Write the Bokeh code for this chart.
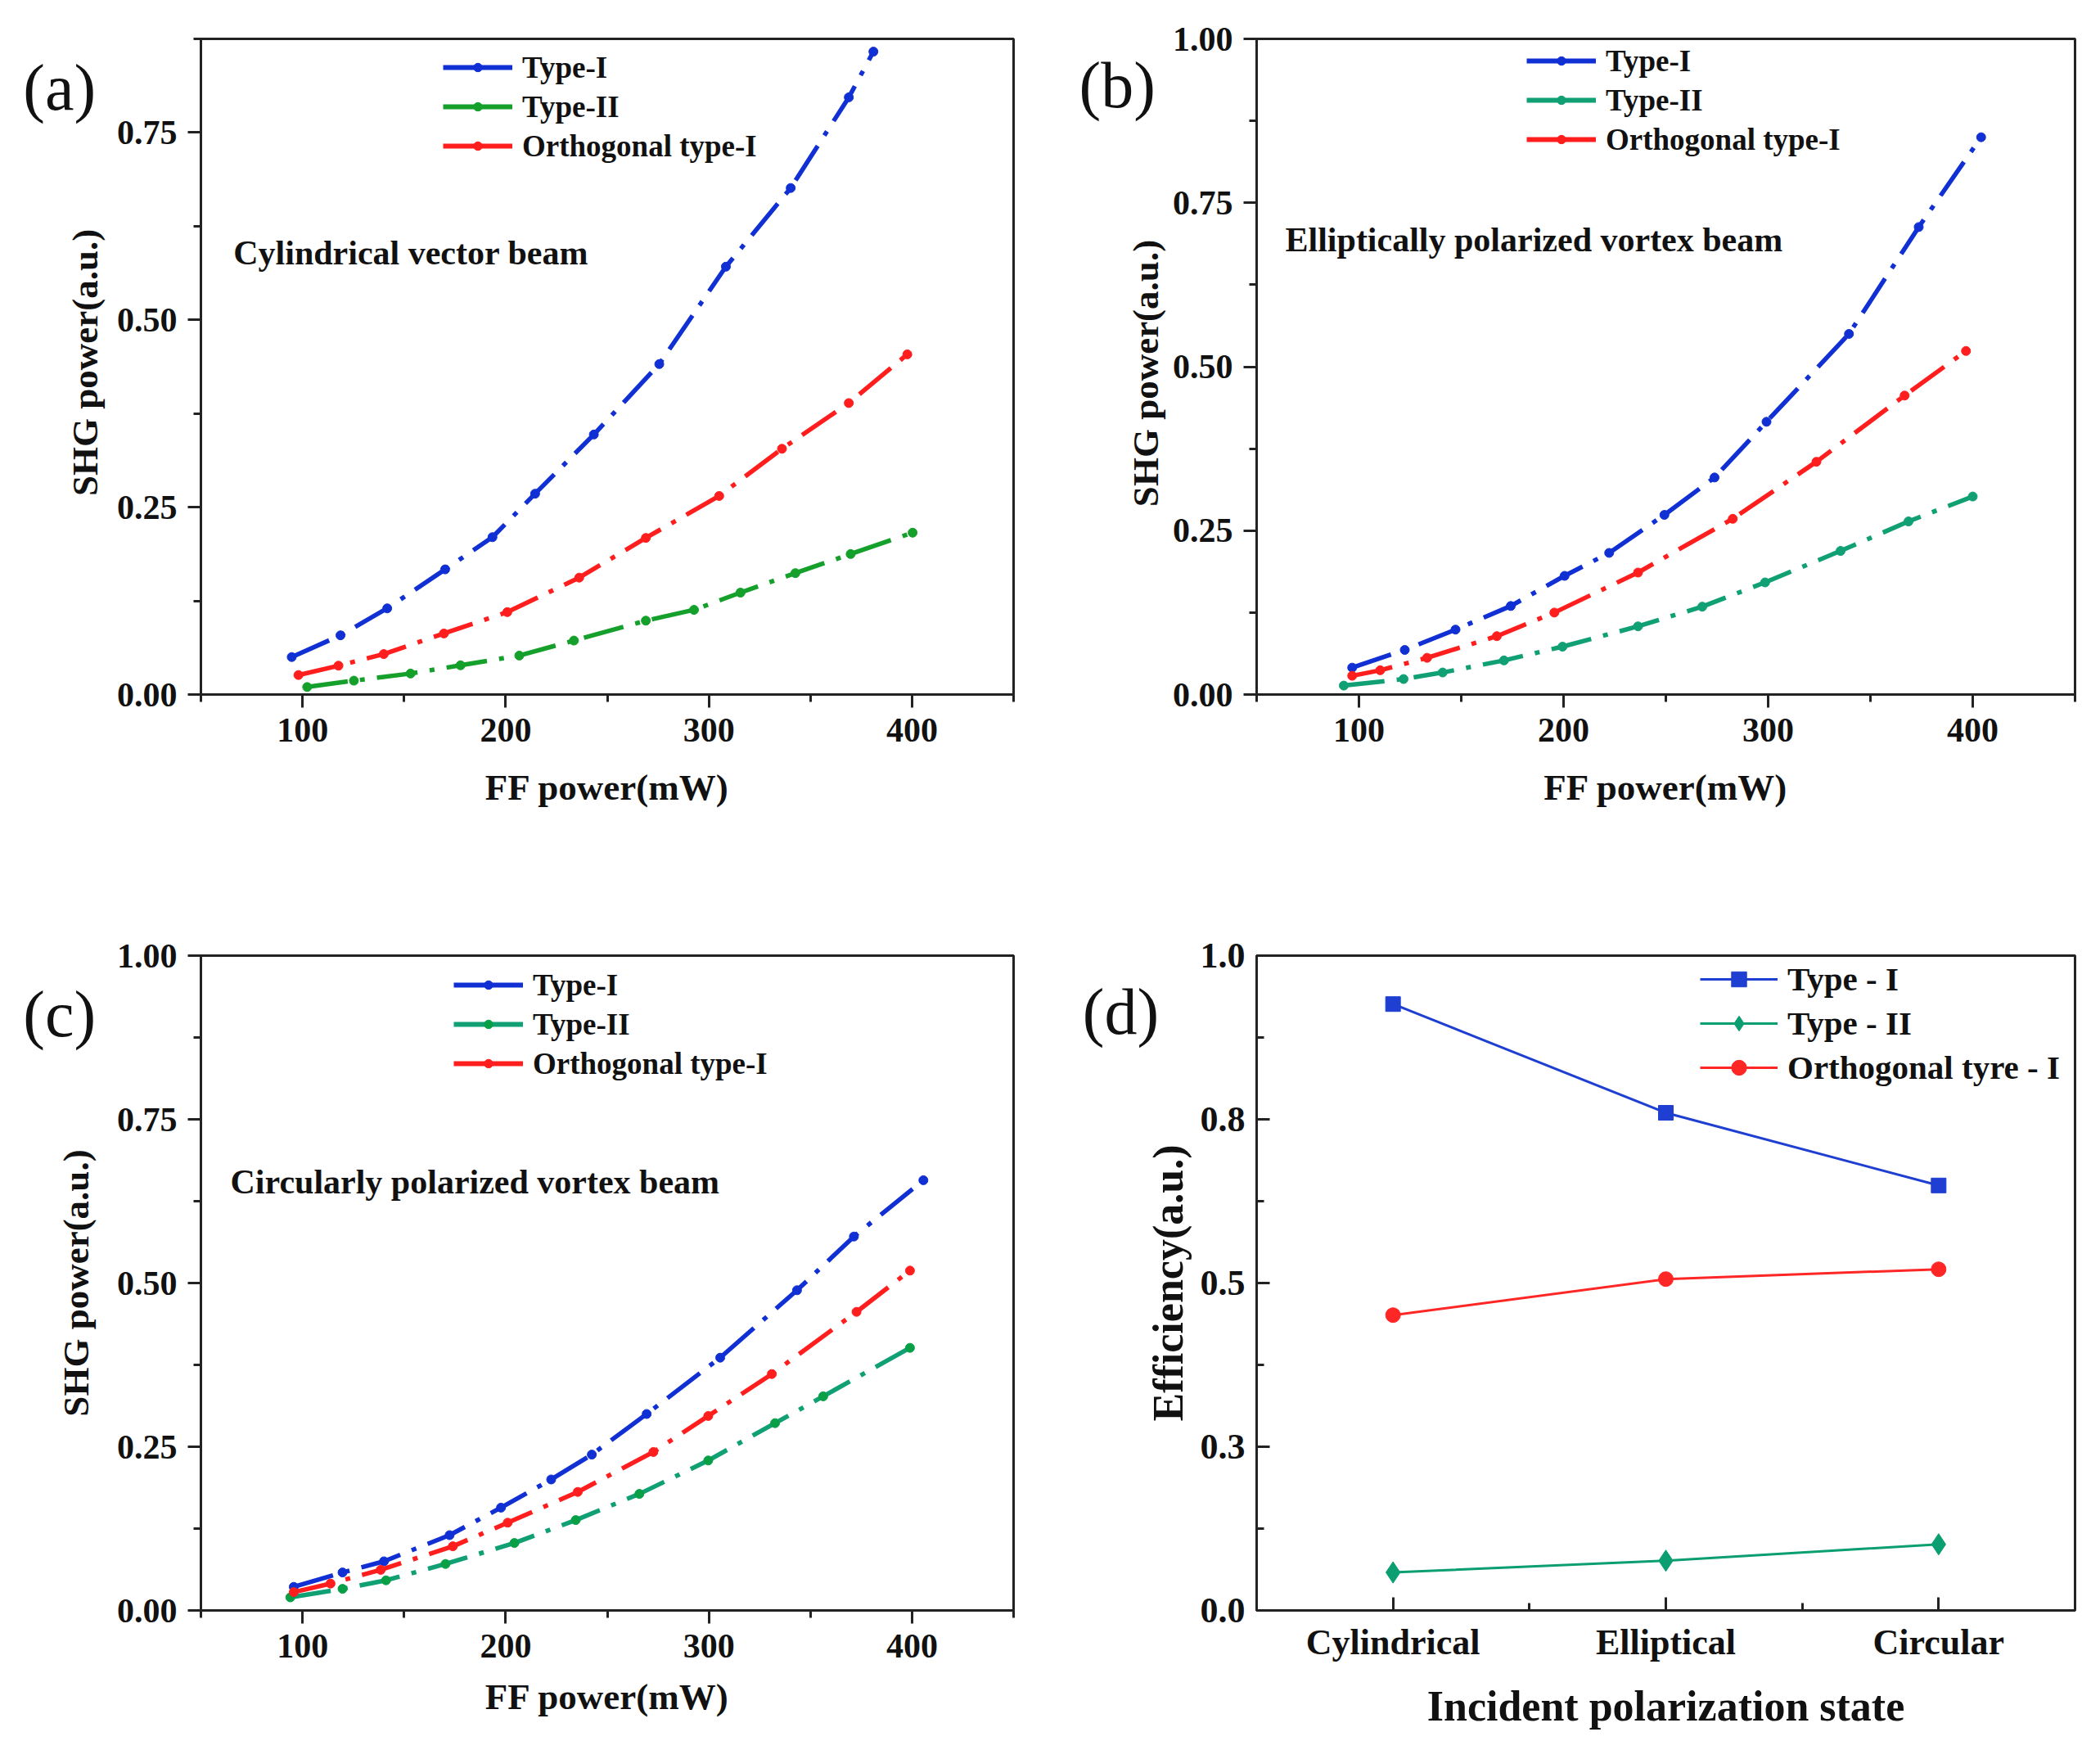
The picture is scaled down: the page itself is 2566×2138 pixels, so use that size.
import math
from bokeh.plotting import figure
from bokeh.layouts import gridplot
from bokeh.models import FixedTicker, PrintfTickFormatter, Label, Legend, LegendItem, Range1d
from bokeh.embed import file_html
from bokeh.resources import INLINE

# (a) cylindrical vector beam
a_type1_x = [94.7, 118.7, 141.7, 170.2, 193.5, 214.5, 243.4, 275.6, 308.4, 340.3, 368.9, 381.0]
a_type1_y = [0.050, 0.079, 0.115, 0.167, 0.210, 0.268, 0.347, 0.441, 0.571, 0.676, 0.797, 0.858]
a_type2_x = [102.3, 125.3, 153.2, 177.8, 206.7, 233.6, 269.0, 292.7, 315.6, 342.6, 369.8, 400.3]
a_type2_y = [0.010, 0.0185, 0.028, 0.039, 0.052, 0.072, 0.0986, 0.113, 0.136, 0.162, 0.1875, 0.216]
a_orth_x = [98.0, 117.7, 140.0, 169.6, 200.8, 236.2, 269.0, 305.1, 336.0, 368.9, 397.7]
a_orth_y = [0.026, 0.0385, 0.054, 0.0815, 0.110, 0.156, 0.209, 0.265, 0.328, 0.389, 0.454]

# (b) elliptically polarized vortex beam
b_type1_x = [96.7, 122.4, 147.2, 174.2, 200.5, 222.3, 249.3, 273.8, 299.2, 339.5, 373.6, 404.1]
b_type1_y = [0.041, 0.068, 0.099, 0.135, 0.181, 0.216, 0.274, 0.331, 0.416, 0.550, 0.713, 0.850]
b_type2_x = [92.6, 121.8, 140.9, 170.9, 199.5, 236.4, 267.8, 298.5, 335.4, 368.6, 400.0]
b_type2_y = [0.0136, 0.0236, 0.0336, 0.052, 0.073, 0.104, 0.134, 0.171, 0.219, 0.264, 0.302]
b_orth_x = [96.7, 110.4, 133.3, 167.4, 195.5, 236.4, 282.7, 323.6, 366.7, 396.7]
b_orth_y = [0.0286, 0.037, 0.056, 0.089, 0.125, 0.186, 0.268, 0.355, 0.456, 0.524]

# (c) circularly polarized vortex beam
c_type1_x = [95.7, 119.7, 140.1, 172.4, 197.7, 222.4, 242.4, 269.4, 305.6, 343.4, 371.4, 405.6]
c_type1_y = [0.036, 0.058, 0.075, 0.115, 0.157, 0.200, 0.238, 0.300, 0.386, 0.489, 0.571, 0.657]
c_type2_x = [94.0, 119.7, 141.1, 170.4, 204.3, 234.5, 265.8, 299.7, 332.6, 356.3, 399.0]
c_type2_y = [0.020, 0.033, 0.046, 0.071, 0.103, 0.138, 0.178, 0.229, 0.286, 0.327, 0.401]
c_orth_x = [95.7, 113.8, 138.5, 174.0, 201.0, 235.5, 272.7, 299.7, 331.0, 372.7, 399.0]
c_orth_y = [0.028, 0.041, 0.062, 0.098, 0.134, 0.181, 0.242, 0.297, 0.361, 0.456, 0.519]

# (d) efficiency vs polarization state
d_states = ["Cylindrical", "Elliptical", "Circular"]
d_type1 = [0.926, 0.760, 0.649]
d_type2 = [0.058, 0.076, 0.101]
d_orth = [0.451, 0.506, 0.521]

FONT = "Liberation Serif"
BLUE = "#1030D4"
RED = "#FF1E1E"
GREEN_A = "#14A02A"
TEAL = "#10A074"
DASH = "50 15 6 15"
INK = "#111111"


def base_fig(left, right, top, bottom, tick_font, label_font):
    p = figure(width=1275, height=1061, output_backend="svg", toolbar_location=None,
               min_border_left=left, min_border_right=right,
               min_border_top=top, min_border_bottom=bottom,
               background_fill_color="white", border_fill_color="white")
    p.grid.visible = False
    p.outline_line_color = "#222222"
    p.outline_line_width = 3
    for ax in (p.xaxis[0], p.yaxis[0]):
        ax.axis_line_width = 3
        ax.axis_line_color = "#222222"
        ax.major_tick_line_width = 3
        ax.minor_tick_line_width = 3
        ax.major_tick_line_color = "#222222"
        ax.minor_tick_line_color = "#222222"
        ax.major_label_text_font = FONT
        ax.major_label_text_font_style = "bold"
        ax.major_label_text_font_size = tick_font
        ax.major_label_text_color = INK
        ax.axis_label_text_font = FONT
        ax.axis_label_text_font_style = "bold"
        ax.axis_label_text_font_size = label_font
        ax.axis_label_text_color = INK
    return p


def panel_letter(p, text, x, y, side):
    # side panels are not clipped to the frame, so the letter can sit in the margin
    p.add_layout(Label(x=x, y=y, text=text, text_font=FONT, text_font_size="80px",
                       text_baseline="middle", text_color=INK), side)


def shg_panel(letter, note, note_x, note_y, lab_x, lab_y, series, y_end, borders, legend_xy,
              side, ylab_xy=None):
    left, right, top, bottom = borders
    p = base_fig(left, right, top, bottom, "42px", "45px")
    p.x_range = Range1d(50, 450)
    p.y_range = Range1d(0, y_end)
    p.xaxis.ticker = FixedTicker(ticks=[100, 200, 300, 400], minor_ticks=[50, 150, 250, 350, 450])
    yt = [0, 0.25, 0.5, 0.75, 1.0]
    p.yaxis.ticker = FixedTicker(ticks=[t for t in yt if t <= y_end + 1e-9],
                                 minor_ticks=[0.125, 0.375, 0.625, 0.875])
    p.yaxis.formatter = PrintfTickFormatter(format="%.2f")
    for ax in (p.xaxis[0], p.yaxis[0]):
        ax.major_tick_in = 0
        ax.major_tick_out = 16
        ax.minor_tick_in = 0
        ax.minor_tick_out = 9
        ax.major_label_standoff = 13
    p.xaxis.axis_label = "FF power(mW)"
    p.xaxis.axis_label_standoff = 28
    if ylab_xy is None:
        p.yaxis.axis_label = "SHG power(a.u.)"
        p.yaxis.axis_label_standoff = 22
    else:
        # y title as a rotated label in the left panel, sharing room with the letter
        p.add_layout(Label(x=ylab_xy[0], y=ylab_xy[1], text="SHG power(a.u.)", angle=math.pi / 2,
                           text_font=FONT, text_font_style="bold", text_font_size="45px",
                           text_align="center", text_baseline="middle", text_color=INK), "left")

    items = []
    for name, xs, ys, color, mcolor in series:
        p.line(xs, ys, line_color=color, line_width=5.5, line_dash=DASH)
        pts = p.scatter(xs, ys, size=11, marker="circle", fill_color=mcolor, line_color=mcolor)
        # one-point solid line: draws nothing in the plot, gives a solid legend swatch
        key = p.line(xs[:1], ys[:1], line_color=color, line_width=6)
        items.append(LegendItem(label=name, renderers=[key, pts]))
    leg = Legend(items=items, location=legend_xy, padding=0, margin=0, spacing=4,
                 label_height=44, glyph_height=26, glyph_width=85, label_standoff=12,
                 label_text_font=FONT, label_text_font_style="bold",
                 label_text_font_size="37px", label_text_color=INK,
                 border_line_color=None, background_fill_alpha=0)
    p.add_layout(leg)

    p.add_layout(Label(x=note_x, y=note_y, text=note, text_font=FONT, text_font_style="bold",
                       text_font_size="42px", text_baseline="middle", text_color=INK))
    panel_letter(p, letter, lab_x, lab_y, side)
    return p


pa = shg_panel("(a)", "Cylindrical vector beam", 66, 0.589, -37.5, 0.81,
               [("Type-I", a_type1_x, a_type1_y, BLUE, BLUE),
                ("Type-II", a_type2_x, a_type2_y, GREEN_A, GREEN_A),
                ("Orthogonal type-I", a_orth_x, a_orth_y, RED, RED)],
               0.875, (237, 37, 47, 213), (296, 648), "left", (-7.0, 0.443))

pb = shg_panel("(b)", "Elliptically polarized vortex beam", 64, 0.693, -36.8, 0.929,
               [("Type-I", b_type1_x, b_type1_y, BLUE, BLUE),
                ("Type-II", b_type2_x, b_type2_y, TEAL, TEAL),
                ("Orthogonal type-I", b_orth_x, b_orth_y, RED, RED)],
               1.0, (260, 13, 47, 213), (330, 656), "left", (-4.3, 0.49))

pc = shg_panel("(c)", "Circularly polarized vortex beam", 64.5, 0.655, -37.5, 0.911,
               [("Type-I", c_type1_x, c_type1_y, BLUE, BLUE),
                ("Type-II", c_type2_x, c_type2_y, TEAL, "#08A046"),
                ("Orthogonal type-I", c_orth_x, c_orth_y, RED, RED)],
               1.0, (237, 37, 106, 155), (309, 646), "above")
pc.xaxis.axis_label_standoff = 20

# (d)
pd_ = base_fig(257, 15, 106, 155, "44px", "52px")
pd_.x_range = Range1d(0.5, 3.5)
pd_.y_range = Range1d(0, 1.0)
d_pos = [i + 1 for i in range(len(d_states))]
pd_.xaxis.ticker = FixedTicker(ticks=d_pos, minor_ticks=[1.5, 2.5])
pd_.xaxis.major_label_overrides = {i + 1: s for i, s in enumerate(d_states)}
pd_.yaxis.ticker = FixedTicker(ticks=[0, 0.25, 0.5, 0.75, 1.0],
                               minor_ticks=[0.125, 0.375, 0.625, 0.875])
pd_.yaxis.major_label_overrides = {0: "0.0", 0.25: "0.3", 0.5: "0.5", 0.75: "0.8", 1: "1.0"}
for ax in (pd_.xaxis[0], pd_.yaxis[0]):
    ax.major_tick_in = 16
    ax.major_tick_out = 0
    ax.minor_tick_in = 9
    ax.minor_tick_out = 0
    ax.major_label_standoff = 14
pd_.xaxis.axis_label = "Incident polarization state"
pd_.yaxis.axis_label = "Efficiency(a.u.)"
pd_.xaxis.axis_label_standoff = 22
pd_.yaxis.axis_label_standoff = 8

d_items = []
for name, ys, color, marker, size in [("Type - I", d_type1, "#1F3FD2", "square", 18),
                                      ("Type - II", d_type2, "#0A9E70", "diamond", 26),
                                      ("Orthogonal tyre - I", d_orth, "#FF2626", "circle", 18)]:
    r1 = pd_.line(d_pos, ys, line_color=color, line_width=3)
    r2 = pd_.scatter(d_pos, ys, marker=marker, size=size, fill_color=color, line_color=color)
    d_items.append(LegendItem(label=name, renderers=[r1, r2]))
d_leg = Legend(items=d_items, location=(542, 639), padding=0, margin=0, spacing=6,
               label_height=46, glyph_height=46, glyph_width=95, label_standoff=12,
               label_text_font=FONT, label_text_font_style="bold",
               label_text_font_size="41px", label_text_color=INK,
               border_line_color=None, background_fill_alpha=0)
pd_.add_layout(d_leg)
panel_letter(pd_, "(d)", -0.138, 0.915, "above")

grid = gridplot([[pa, pb], [pc, pd_]], toolbar_location=None)
open("out.html", "w").write(file_html(grid, INLINE))
